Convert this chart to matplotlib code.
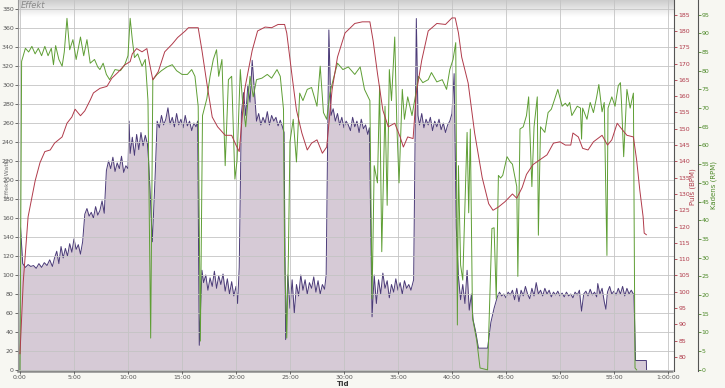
import numpy as np
import matplotlib
matplotlib.use('Agg')
import matplotlib.pyplot as plt

# power (W) over time (min)
t_power = [0, 0.05, 0.25, 0.5, 0.75, 1.0, 1.25, 1.5, 1.75, 2.0, 2.25, 2.5, 2.75, 3.0, 3.2, 3.4, 3.6, 3.8,
           4.0, 4.2, 4.4, 4.6, 4.8, 5.0, 5.2, 5.4, 5.6, 5.8, 6.0, 6.2, 6.4, 6.6, 6.8, 7.0, 7.2, 7.4, 7.6,
           7.8, 8.0, 8.2, 8.4, 8.6, 8.8, 9.0, 9.2, 9.4, 9.6, 9.8, 10.0, 10.1,
           10.2, 10.4, 10.6, 10.8, 11.0, 11.2, 11.4, 11.6, 11.8, 11.9, 12.1, 12.25, 12.5, 12.7, 12.9,
           13.1, 13.3, 13.5, 13.7, 13.9, 14.1, 14.3, 14.5, 14.7, 14.9, 15.1, 15.3, 15.5, 15.7, 15.9,
           16.1, 16.3, 16.45, 16.6, 16.85, 17.0, 17.2, 17.4, 17.6, 17.8, 18.0, 18.2, 18.4, 18.6, 18.8,
           19.0, 19.2, 19.4, 19.6, 19.8, 20.0, 20.15, 20.3, 20.5, 20.7, 20.9, 21.1, 21.3, 21.5, 21.7,
           21.9, 22.1, 22.3, 22.5, 22.7, 22.9, 23.1, 23.3, 23.5, 23.7, 23.9, 24.1, 24.3, 24.45, 24.6,
           24.8, 25.0, 25.2, 25.4, 25.6, 25.8, 26.0, 26.2, 26.4, 26.6, 26.8, 27.0, 27.2, 27.4, 27.6,
           27.8, 28.0, 28.2, 28.35, 28.6, 28.8, 29.0, 29.2, 29.4, 29.6, 29.8, 30.0, 30.2, 30.4, 30.6,
           30.8, 31.0, 31.2, 31.4, 31.6, 31.8, 32.0, 32.2, 32.35, 32.6, 32.8, 33.0, 33.2, 33.4, 33.6,
           33.8, 34.0, 34.2, 34.4, 34.6, 34.8, 35.0, 35.2, 35.4, 35.6, 35.8, 36.0, 36.2, 36.45, 36.7,
           36.85, 37.0, 37.2, 37.4, 37.6, 37.8, 38.0, 38.2, 38.4, 38.6, 38.8, 39.0, 39.2, 39.4, 39.6,
           39.8, 40.0, 40.2, 40.4, 40.6, 40.8, 41.0, 41.2, 41.4, 41.6, 41.8, 41.95, 42.2, 42.45, 43.3,
           43.6, 43.9, 44.2, 44.4, 44.6, 44.8, 45.0, 45.2, 45.4, 45.6, 45.8, 46.0, 46.2, 46.4, 46.6,
           46.8, 47.0, 47.2, 47.4, 47.6, 47.8, 48.0, 48.2, 48.4, 48.6, 48.8, 49.0, 49.2, 49.4, 49.6,
           49.8, 50.0, 50.2, 50.4, 50.6, 50.8, 51.0, 51.2, 51.4, 51.6, 51.8, 52.0, 52.2, 52.4, 52.6,
           52.8, 53.0, 53.2, 53.4, 53.5, 53.7, 53.9, 54.1, 54.25, 54.4, 54.6, 54.8, 55.0, 55.2, 55.4,
           55.6, 55.8, 56.0, 56.2, 56.4, 56.6, 56.85, 57.0, 58.0, 58.02]
power = [0, 150, 112, 108, 111, 109, 110, 107, 112, 108, 113, 110, 116, 109, 118, 125, 112, 130,
         118, 128, 120, 133, 124, 138, 127, 132, 122, 135, 164, 170, 162, 166, 160, 172, 163, 168, 178,
         165, 210, 220, 212, 224, 209, 218, 212, 225, 208, 215, 212, 262,
         228, 245, 226, 248, 232, 250, 236, 247, 238, 222, 175, 135, 200, 262, 255,
         268, 258, 264, 276, 259, 266, 256, 270, 258, 264, 255, 268, 257, 262, 252,
         260, 256, 262, 26, 105, 92, 100, 84, 97, 88, 104, 86, 99, 90, 101,
         83, 96, 80, 93, 78, 88, 70, 108, 270, 292, 268, 300, 282, 326, 295,
         262, 270, 258, 266, 260, 272, 258, 268, 262, 266, 257, 263, 256, 250, 32,
         100, 65, 95, 60, 90, 78, 100, 84, 95, 80, 92, 86, 98, 82, 94,
         80, 90, 85, 100, 358, 268, 275, 262, 270, 258, 266, 255, 262, 258, 252,
         266, 256, 262, 250, 264, 254, 258, 248, 255, 56, 100, 70, 95, 80, 102,
         86, 94, 76, 90, 82, 96, 84, 92, 80, 94, 86, 90, 84, 95, 370,
         268, 258, 270, 255, 264, 258, 266, 252, 262, 256, 264, 253, 260, 250, 258,
         262, 270, 312, 150, 98, 74, 90, 70, 105, 63, 80, 53, 40, 23, 23,
         50, 65, 77, 82, 78, 80, 76, 82, 79, 84, 74, 86, 72, 84, 78,
         88, 80, 75, 86, 78, 92, 80, 84, 78, 86, 80, 84, 77, 82, 79,
         83, 78, 81, 77, 82, 78, 80, 76, 82, 79, 84, 62, 80, 83, 78,
         85, 79, 82, 77, 91, 80, 86, 72, 64, 82, 88, 80, 83, 79, 86,
         80, 88, 78, 86, 80, 84, 79, 10, 10, 0]

# heart rate (BPM)
t_pulse = [0.0, 0.3, 0.75, 1.4, 1.85, 2.3, 2.8, 3.2, 3.9, 4.35, 4.8, 5.1, 5.6, 6.0, 6.5, 6.8, 7.4, 8.05,
           8.5, 9.1, 9.7, 10.2, 10.4, 10.8, 11.3, 11.75, 12.0, 12.3, 12.8, 13.4, 14.1, 14.6, 15.3, 15.6,
           16.5, 16.85, 17.3, 17.8, 18.3, 19.0, 19.6, 20.0, 20.3, 20.8, 21.5, 22.0, 22.7, 23.3, 23.9,
           24.5, 24.7, 25.2, 25.6, 26.1, 26.6, 27.0, 27.5, 28.0, 28.4, 28.9, 29.4, 30.1, 30.6, 31.0,
           31.7, 32.4, 32.7, 33.1, 33.6, 34.1, 34.7, 35.2, 35.5, 35.9, 36.4, 36.7, 37.2, 37.8, 38.6,
           39.4, 40.0, 40.3, 40.6, 40.9, 41.5, 42.1, 42.8, 43.4, 43.8, 44.3, 44.9, 45.6, 46.0, 46.5,
           46.9, 47.5, 48.1, 48.8, 49.4, 50.0, 50.5, 51.0, 51.2, 51.7, 52.1, 52.6, 53.1, 53.9, 54.4,
           54.8, 55.3, 55.7, 56.2, 56.8, 57.1, 57.4, 57.7, 57.8, 58.0]
pulse = [81, 103, 123, 134, 139.6, 143, 143.5, 145.6, 147.5, 151.7, 153.6, 156, 154, 155.5, 158.8, 161, 162.4, 163,
         165.5, 167.4, 169.6, 170.6, 173, 174.6, 173.6, 174.6, 170, 165, 167.5, 173.6, 176, 178, 180, 181,
         181, 174, 164, 153.6, 150.6, 148, 148, 145, 143, 162, 174, 180, 181.2, 181, 182,
         182, 179.4, 166, 155.7, 148.7, 143.5, 145.6, 146.6, 142.5, 144.4, 162, 172, 179.4, 181, 182.3,
         182.8, 182.8, 177, 167, 155.7, 150.6, 151.7, 147.5, 144.4, 147.5, 147, 161, 171, 180, 182.3,
         182, 184, 184, 179.4, 172, 164, 148.7, 135, 127, 125, 126, 127.6, 130, 128.7, 132,
         136, 139, 140.4, 142, 145.6, 146, 145, 145, 148.7, 147.5, 144, 143.5, 146, 148, 145,
         146.6, 151.7, 150, 148, 147.5, 140.4, 131, 123, 118, 117.5]

# cadence (RPM)
t_cad = [0.0, 0.15, 0.5, 0.8, 1.1, 1.4, 1.7, 2.0, 2.3, 2.6, 2.9, 3.1, 3.3, 3.6, 3.9, 4.1, 4.35, 4.6, 4.9,
         5.2, 5.6, 5.9, 6.2, 6.5, 6.9, 7.2, 7.4, 7.7, 8.0, 8.3, 8.8, 9.3, 9.7, 10.0, 10.2, 10.4, 10.6,
         10.9, 11.3, 11.6, 11.85, 12.1, 12.3, 12.7, 13.1, 13.6, 14.1, 14.5, 15.0, 15.5, 15.9, 16.2,
         16.5, 16.7, 16.9, 17.3, 17.6, 17.9, 18.2, 18.4, 18.7, 19.0, 19.3, 19.6, 19.9, 20.1, 20.4,
         20.6, 20.9, 21.3, 21.6, 21.9, 22.4, 22.9, 23.3, 23.8, 24.1, 24.4, 24.5, 24.7, 24.85, 25.0,
         25.3, 25.6, 25.9, 26.2, 26.6, 27.0, 27.5, 27.8, 28.1, 28.4, 28.7, 29.0, 29.4, 29.9, 30.4,
         30.7, 31.0, 31.5, 31.9, 32.4, 32.6, 32.8, 33.1, 33.3, 33.5, 33.8, 34.0, 34.2, 34.4, 34.7,
         34.9, 35.1, 35.4, 35.6, 35.9, 36.3, 36.6, 36.9, 37.3, 37.8, 38.1, 38.6, 39.1, 39.5, 39.8,
         40.1, 40.35, 40.5, 40.6, 40.8, 41.0, 41.4, 41.55, 41.7, 41.9, 42.3, 42.6, 43.3, 43.7, 43.9,
         44.1, 44.3, 44.5, 44.7, 45.1, 45.4, 45.6, 46.0, 46.1, 46.3, 46.6, 46.9, 47.1, 47.4, 47.6,
         47.9, 48.0, 48.2, 48.6, 48.9, 49.2, 49.5, 49.8, 50.2, 50.5, 50.7, 50.9, 51.1, 51.6, 51.9,
         52.0, 52.1, 52.5, 52.8, 53.1, 53.4, 53.6, 53.9, 54.1, 54.35, 54.45, 54.8, 55.1, 55.4, 55.6,
         55.7, 55.9, 56.2, 56.5, 56.8, 56.95, 57.1]
cadence = [0, 82.5, 86, 85, 86.5, 84.5, 86, 84, 86.5, 84, 86, 81.6, 86.7, 83, 81.2, 85, 94, 85.6, 88.3,
           83, 89, 84, 88.3, 82, 83, 81, 80.3, 82, 79, 77.6, 80.3, 80, 81.6, 84, 94, 88.3, 83.5,
           84.5, 81.2, 83, 72, 8.5, 77.6, 79, 80, 81, 81.6, 80, 79, 79, 80.3, 78.5,
           70.5, 7.7, 68, 72.5, 78.5, 83, 85.6, 78.5, 83, 54.6, 77.6, 78.5, 51, 56, 80.3,
           72, 65, 78.5, 73, 77.6, 78, 79, 78, 80.3, 78.5, 69.7, 30, 8.5, 30, 61,
           67, 55.6, 74, 72, 75, 75.5, 70.5, 81.2, 68.8, 67, 74, 77.6, 82, 80.3, 81,
           80, 79, 81, 75, 72, 19, 54.6, 50, 76, 31.6, 70.5, 44, 80.3, 72, 89,
           65, 50, 75, 67, 73, 68, 73, 78.5, 76.8, 77.6, 79.5, 77, 77.6, 75, 80.3,
           83, 87.5, 12, 54.6, 28, 24, 63.5, 42, 64.4, 14, 7.7, 0.5, 0, 37.8, 38,
           19, 52, 51.3, 52, 57, 55.6, 55, 49, 25, 64.4, 65, 68, 73, 49, 65,
           73, 36, 65, 63.5, 68.8, 69.7, 72.3, 75, 70.5, 71.3, 70.5, 71.5, 68, 70.5, 70,
           61.7, 70, 67, 71.5, 68.8, 73, 76.3, 69, 71.5, 30.6, 70, 73, 70.5, 76, 76.8,
           71.5, 57, 75, 70, 74, 0.5, 0]

time_ticks = list(range(0, 65, 5))
time_labels = ['%d:00' % m for m in time_ticks[:-1]] + ['1:00:00']
power_ticks = list(range(0, 400, 20))
pulse_ticks = list(range(80, 190, 5))
cad_ticks = list(range(0, 100, 5))

fig = plt.figure(figsize=(7.25, 3.88), dpi=100, facecolor='#f7f7f2')
ax = fig.add_axes([18/725, 1-371/388, 656/725, 371/388])
ax.set_facecolor('white')

# grey band at the top of the plot
grad = np.linspace(0.80, 1.0, 50).reshape(-1, 1)
ax.imshow(grad, cmap='gray', vmin=0, vmax=1, extent=[0, 1, 0.955, 1.0],
          transform=ax.transAxes, aspect='auto', zorder=0.5)
ax.text(0.004, 0.996, 'Effekt', transform=ax.transAxes, fontsize=6, style='italic',
        color='#8a8a8a', va='top', ha='left', zorder=3)

ax.fill_between(t_power, power, 0, color='#c9b9c9', alpha=0.75, lw=0, zorder=1)
ax.plot(t_power, power, color='#4b3b78', lw=0.7, zorder=2)

ax.set_xlim(-0.185, 60.56)
ax.set_ylim(-1.05, 389.5)
ax.set_xticks(time_ticks)
ax.set_xticklabels(time_labels)
ax.set_yticks(power_ticks)
ax.grid(True, color='#c4c4c4', lw=0.6, zorder=1.5)
ax.set_axisbelow(False)
ax.tick_params(axis='both', labelsize=4.5, colors='#555555', length=2, pad=1, width=0.6)
for sp in ['top', 'right']:
    ax.spines[sp].set_visible(False)
ax.spines['left'].set_color('#999999')
ax.spines['bottom'].set_color('#8a8a8a')
ax.spines['bottom'].set_linestyle((0, (1.5, 1)))
ax.spines['bottom'].set_linewidth(1.8)
fig.text(343/725, 1-384.5/388, 'Tid', fontsize=5, fontweight='bold', color='#333333',
         ha='center', va='center')

ax2 = ax.twinx()
ax2.plot(t_pulse, pulse, color='#b03a4a', lw=0.7, zorder=3)
ax2.set_ylim(75.7, 189.5)
ax2.set_yticks(pulse_ticks)
ax2.tick_params(axis='y', labelsize=4.5, colors='#b03a4a', length=2, pad=1, width=0.6)
ax2.spines['right'].set_color('#555555')
for sp in ['top', 'left', 'bottom']:
    ax2.spines[sp].set_visible(False)

ax3 = ax.twinx()
ax3.plot(t_cad, cadence, color='#5e9e34', lw=0.7, zorder=2)
ax3.set_ylim(-0.3, 98.9)
ax3.set_yticks(cad_ticks)
ax3.spines['right'].set_position(('outward', 17))
ax3.spines['right'].set_color('#555555')
for sp in ['top', 'left', 'bottom']:
    ax3.spines[sp].set_visible(False)
ax3.tick_params(axis='y', labelsize=4.5, colors='#4e8a2a', length=2, pad=1, width=0.6)
ax2.set_zorder(ax3.get_zorder() + 1)
ax2.patch.set_visible(False)
ax3.patch.set_visible(False)

fig.text(693/725, 1-187/388, 'Puls (BPM)', rotation=90, fontsize=5, color='#b03a4a',
         ha='center', va='center')
fig.text(714/725, 1-185/388, 'Kadens (RPM)', rotation=90, fontsize=5, color='#4e8a2a',
         ha='center', va='center')
fig.text(8/725, 1-178/388, 'Effekt (Watt)', rotation=90, fontsize=4.5, color='#777777',
         ha='center', va='center')

plt.savefig('out.png', dpi=100, facecolor=fig.get_facecolor())
